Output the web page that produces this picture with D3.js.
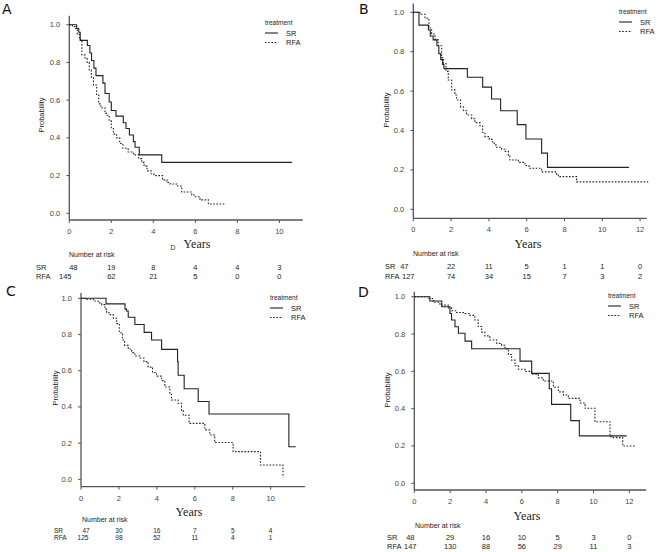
<!DOCTYPE html>
<html><head><meta charset="utf-8">
<script src="https://cdn.jsdelivr.net/npm/d3@7"></script>
<style>body{margin:0;background:#fff}svg{display:block}</style>
</head><body>
<svg id="c" width="661" height="552"></svg>
<script>
// ---------- DATA ----------
const yTicks = [0, 0.2, 0.4, 0.6, 0.8, 1.0];
const xTicksA = [0, 2, 4, 6, 8, 10];
const xTicksB = [0, 2, 4, 6, 8, 10, 12];
const xTicksC = [0, 2, 4, 6, 8, 10];
const xTicksD = [0, 2, 4, 6, 8, 10, 12];
const groups = ["SR", "RFA"];

// Kaplan-Meier steps: [time (years), survival after step]; last entry = end of follow-up
const survA_SR = [[0,1],[0.35,0.98],[0.45,0.96],[0.52,0.917],[0.86,0.89],[0.98,0.85],[1.06,0.81],[1.17,0.77],[1.27,0.73],[1.6,0.69],[1.7,0.635],[1.9,0.59],[2.0,0.545],[2.22,0.515],[2.57,0.48],[2.7,0.45],[2.86,0.415],[3.05,0.38],[3.13,0.35],[3.33,0.31],[4.4,0.27],[10.6,0.27]];
const survA_RFA = [[0,1],[0.15,0.99],[0.27,0.98],[0.38,0.95],[0.48,0.92],[0.6,0.84],[0.75,0.82],[0.85,0.80],[0.95,0.76],[1.05,0.72],[1.15,0.68],[1.3,0.63],[1.4,0.58],[1.5,0.56],[1.7,0.53],[1.8,0.52],[1.9,0.49],[2.0,0.45],[2.1,0.42],[2.25,0.40],[2.4,0.37],[2.55,0.345],[2.8,0.325],[3.05,0.31],[3.3,0.29],[3.45,0.27],[3.56,0.25],[3.7,0.225],[3.9,0.21],[4.03,0.20],[4.44,0.177],[4.65,0.163],[4.8,0.155],[5.11,0.145],[5.35,0.113],[5.83,0.097],[6.0,0.088],[6.22,0.071],[6.62,0.049],[7.41,0.049]];
const survB_SR = [[0,1],[0.3,0.935],[0.8,0.91],[0.9,0.88],[1.05,0.86],[1.25,0.83],[1.35,0.79],[1.45,0.76],[1.55,0.735],[1.62,0.714],[2.86,0.67],[3.67,0.62],[4.14,0.56],[4.62,0.50],[5.5,0.43],[5.96,0.357],[6.79,0.285],[7.1,0.213],[11.41,0.213]];
const survB_RFA = [[0,1],[0.35,0.99],[0.62,0.97],[0.83,0.92],[0.97,0.89],[1.15,0.86],[1.32,0.83],[1.5,0.77],[1.59,0.74],[1.73,0.70],[1.85,0.656],[2.03,0.606],[2.2,0.58],[2.29,0.555],[2.5,0.52],[2.65,0.50],[2.82,0.479],[3.09,0.46],[3.26,0.44],[3.53,0.423],[3.67,0.39],[3.79,0.369],[4.02,0.355],[4.2,0.335],[4.37,0.315],[4.67,0.305],[4.85,0.295],[5.03,0.27],[5.11,0.25],[5.56,0.238],[5.91,0.222],[6.12,0.208],[6.79,0.19],[7.58,0.178],[7.67,0.166],[8.64,0.139],[12.43,0.139]];
const survC_SR = [[0,1],[1.32,0.969],[2.32,0.94],[2.4,0.93],[2.49,0.895],[2.84,0.855],[3.33,0.812],[3.72,0.77],[4.25,0.718],[5.09,0.65],[5.12,0.575],[5.44,0.50],[6.18,0.43],[6.75,0.361],[10.96,0.18],[11.32,0.18]];
const survC_RFA = [[0,1],[0.3,0.995],[0.65,0.985],[0.9,0.975],[1.09,0.965],[1.26,0.94],[1.35,0.92],[1.53,0.91],[1.7,0.89],[1.88,0.86],[2.02,0.81],[2.19,0.77],[2.3,0.74],[2.49,0.72],[2.67,0.70],[2.84,0.681],[3.11,0.67],[3.32,0.65],[3.54,0.62],[3.77,0.59],[3.98,0.57],[4.25,0.545],[4.42,0.51],[4.68,0.47],[4.77,0.438],[5.12,0.42],[5.3,0.38],[5.39,0.354],[5.7,0.309],[6.53,0.273],[6.79,0.245],[7.05,0.203],[8.02,0.153],[9.46,0.079],[10.65,0.011]];
const survD_SR = [[0,1],[0.87,0.977],[1.53,0.946],[1.99,0.91],[2.08,0.875],[2.27,0.839],[2.46,0.804],[2.83,0.762],[3.2,0.721],[5.9,0.655],[6.55,0.589],[7.53,0.507],[7.66,0.423],[8.73,0.336],[9.21,0.254],[11.85,0.254]];
const survD_RFA = [[0,1],[0.78,0.99],[1.06,0.97],[1.43,0.955],[1.9,0.94],[2.08,0.925],[2.36,0.915],[2.74,0.91],[3.1,0.90],[3.38,0.875],[3.57,0.84],[3.76,0.81],[3.94,0.79],[4.22,0.768],[4.6,0.75],[4.87,0.74],[5.06,0.72],[5.25,0.69],[5.43,0.66],[5.62,0.63],[5.81,0.611],[6.18,0.60],[6.55,0.585],[6.92,0.565],[7.2,0.548],[7.76,0.515],[8.04,0.49],[8.32,0.473],[8.6,0.455],[9.25,0.43],[9.53,0.402],[10.08,0.33],[10.92,0.25],[11.1,0.245],[11.63,0.20],[12.37,0.20]];

const riskA_SR = [48, 19, 8, 4, 4, 3];
const riskA_RFA = [145, 62, 21, 5, 0, 0];
const riskB_SR = [47, 22, 11, 5, 1, 1, 0];
const riskB_RFA = [127, 74, 34, 15, 7, 3, 2];
const riskC_SR = [47, 30, 16, 7, 5, 4];
const riskC_RFA = [125, 98, 52, 11, 4, 1];
const riskD_SR = [48, 29, 16, 10, 5, 3, 0];
const riskD_RFA = [147, 130, 88, 56, 29, 11, 3];

// ---------- LAYOUT ----------
const panels = [
  {letter:"A", lx:2, ly:14, x0:69.3, x1:302.7, xmax:11.11, y0:213.3, y1:24.7, axisY:220, yTop:15.7,
   xt:xTicksA, sr:survA_SR, rfa:survA_RFA, rSR:riskA_SR, rRFA:riskA_RFA,
   leg:{x:265, y:23}, ylab:{x:44, y:115}, years:{x:197, y:248}, nar:{x:69, y:257}, rowSR:270, rowRFA:279, labX:36, firstDx:[4,-4], rfs:7.5, stray:true},
  {letter:"B", lx:359, ly:14, x0:413.3, x1:646.7, xmax:12.35, y0:209.3, y1:12.3, axisY:218.3, yTop:3.5,
   xt:xTicksB, sr:survB_SR, rfa:survB_RFA, rSR:riskB_SR, rRFA:riskB_RFA,
   leg:{x:619, y:12}, ylab:{x:389, y:110}, years:{x:528, y:248}, nar:{x:413, y:256}, rowSR:269, rowRFA:279, labX:385, firstDx:[-9,-5], rfs:7.5},
  {letter:"C", lx:6, ly:296, x0:81, x1:305, xmax:11.81, y0:479.3, y1:298.3, axisY:486.7, yTop:293,
   xt:xTicksC, sr:survC_SR, rfa:survC_RFA, rSR:riskC_SR, rRFA:riskC_RFA,
   leg:{x:270, y:298}, ylab:{x:58, y:388}, years:{x:189, y:516}, nar:{x:82, y:522}, rowSR:532.5, rowRFA:539.5, labX:54, firstDx:[5,2], rfs:6.5},
  {letter:"D", lx:358, ly:297, x0:414.3, x1:646, xmax:12.93, y0:483.3, y1:296.7, axisY:490, yTop:291.7,
   xt:xTicksD, sr:survD_SR, rfa:survD_RFA, rSR:riskD_SR, rRFA:riskD_RFA,
   leg:{x:608, y:296}, ylab:{x:390, y:390}, years:{x:527, y:520}, nar:{x:415, y:528}, rowSR:540, rowRFA:549, labX:387, firstDx:[-4,-4], rfs:7.5}
];

const svg = d3.select("#c");
const sans = "'Liberation Sans', Arial, sans-serif";
const serif = "'Liberation Serif', 'Times New Roman', serif";
const axisCol = "#555";
const lineCol = "#222";

panels.forEach(p => {
  const g = svg.append("g");
  const x = d3.scaleLinear().domain([0, p.xmax]).range([p.x0, p.x1]);
  const y = d3.scaleLinear().domain([0, 1]).range([p.y0, p.y1]);

  g.append("text").attr("x", p.lx).attr("y", p.ly).text(p.letter)
    .attr("font-family", "'DejaVu Sans', sans-serif").attr("font-size", 14).attr("fill", "#111");

  // x axis
  g.append("line").attr("x1", p.x0).attr("x2", p.x1).attr("y1", p.axisY).attr("y2", p.axisY)
    .attr("stroke", axisCol).attr("stroke-width", 1.3);
  p.xt.forEach(t => {
    g.append("line").attr("x1", x(t)).attr("x2", x(t)).attr("y1", p.axisY).attr("y2", p.axisY + 3)
      .attr("stroke", axisCol).attr("stroke-width", 1);
    g.append("text").attr("x", x(t)).attr("y", p.axisY + 14).attr("text-anchor", "middle")
      .attr("font-family", sans).attr("font-size", 7.5).attr("fill", "#444").text(t);
  });
  // y axis
  g.append("line").attr("x1", p.x0).attr("x2", p.x0).attr("y1", p.yTop).attr("y2", p.axisY)
    .attr("stroke", axisCol).attr("stroke-width", 1.3);
  yTicks.forEach(v => {
    g.append("line").attr("x1", p.x0 - 3).attr("x2", p.x0).attr("y1", y(v)).attr("y2", y(v))
      .attr("stroke", axisCol).attr("stroke-width", 1);
    g.append("text").attr("x", p.x0 - 9).attr("y", y(v) + 2.5).attr("text-anchor", "end")
      .attr("font-family", sans).attr("font-size", 7.5).attr("fill", "#444").text(v.toFixed(1));
  });
  g.append("text").attr("transform", `translate(${p.ylab.x},${p.ylab.y}) rotate(-90)`)
    .attr("text-anchor", "middle").attr("font-family", sans).attr("font-size", 7.5).attr("fill", "#222")
    .text("Probability");
  g.append("text").attr("x", p.years.x).attr("y", p.years.y).attr("text-anchor", "middle")
    .attr("font-family", serif).attr("font-size", 12).attr("fill", "#222").text("Years");
  if (p.stray) {
    g.append("text").attr("x", 173).attr("y", 250).attr("text-anchor", "middle")
      .attr("font-family", sans).attr("font-size", 7).attr("fill", "#333").text("D");
  }

  // curves
  const line = d3.line().x(d => x(d[0])).y(d => y(d[1])).curve(d3.curveStepAfter);
  g.append("path").datum(p.sr).attr("d", line).attr("fill", "none")
    .attr("stroke", lineCol).attr("stroke-width", 1.1);
  g.append("path").datum(p.rfa).attr("d", line).attr("fill", "none")
    .attr("stroke", lineCol).attr("stroke-width", 1.1).attr("stroke-dasharray", "1.6,1.6");

  // legend
  g.append("text").attr("x", p.leg.x).attr("y", p.leg.y + 2).attr("font-family", sans)
    .attr("font-size", 6.5).attr("fill", "#222").text("treatment");
  [0, 1].forEach(i => {
    const ly = p.leg.y + 10 + i * 9.5;
    g.append("line").attr("x1", p.leg.x).attr("x2", p.leg.x + 13).attr("y1", ly).attr("y2", ly)
      .attr("stroke", lineCol).attr("stroke-width", 1.1)
      .attr("stroke-dasharray", i === 1 ? "1.6,1.6" : null);
    g.append("text").attr("x", p.leg.x + 21).attr("y", ly + 2.5).attr("font-family", sans)
      .attr("font-size", 7.5).attr("fill", "#222").text(groups[i]);
  });

  // number at risk
  g.append("text").attr("x", p.nar.x).attr("y", p.nar.y).attr("font-family", sans)
    .attr("font-size", 7).attr("fill", "#222").text("Number at risk");
  [[p.rSR, p.rowSR], [p.rRFA, p.rowRFA]].forEach(([vals, ry], i) => {
    g.append("text").attr("x", p.labX).attr("y", ry).attr("font-family", sans)
      .attr("font-size", p.rfs).attr("fill", "#222").text(groups[i]);
    vals.forEach((v, j) => {
      g.append("text").attr("x", x(p.xt[j]) + (j === 0 ? p.firstDx[i] : 0)).attr("y", ry)
        .attr("text-anchor", "middle").attr("font-family", sans).attr("font-size", p.rfs)
        .attr("fill", "#222").text(v);
    });
  });
});
</script>
</body></html>
